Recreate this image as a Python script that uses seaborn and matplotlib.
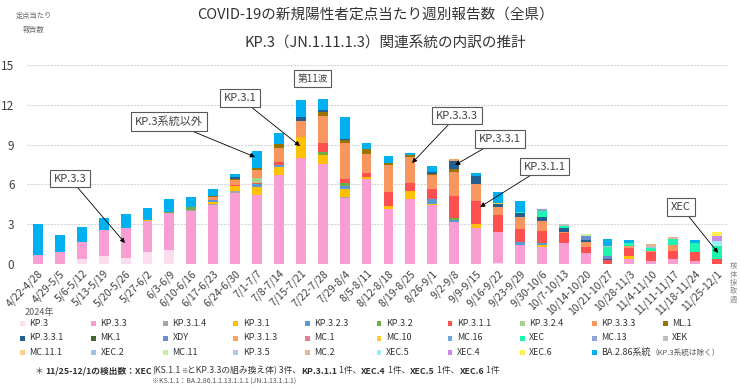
import matplotlib
matplotlib.use("Agg")
import matplotlib.pyplot as plt
import seaborn as sns
import numpy as np
from matplotlib.patches import Rectangle

weeks = ["4/22-4/28", "4/29-5/5", "5/6-5/12", "5/13-5/19", "5/20-5/26", "5/27-6/2",
         "6/3-6/9", "6/10-6/16", "6/17-6/23", "6/24-6/30", "7/1-7/7", "7/8-7/14",
         "7/15-7/21", "7/22-7/28", "7/29-8/4", "8/5-8/11", "8/12-8/18", "8/19-8/25",
         "8/26-9/1", "9/2-9/8", "9/9-9/15", "9/16-9/22", "9/23-9/29", "9/30-10/6",
         "10/7-10/13", "10/14-10/20", "10/21-10/27", "10/28-11/3", "11/4-11/10",
         "11/11-11/17", "11/18-11/24", "11/25-12/1"]

KP_3 = [0, 0, 0.4, 0.6, 0.45, 0.9, 1.03, 0, 0, 0, 0, 0, 0, 0, 0, 0, 0, 0, 0, 0, 0, 0.1, 0, 0, 0, 0, 0, 0, 0, 0, 0, 0]
KP_3_3 = [0.65, 0.9, 1.27, 2.0, 2.28, 2.32, 2.82, 3.97, 4.47, 5.35, 5.18, 6.72, 8.0, 7.55, 5.0, 6.43, 4.17, 4.88, 4.43, 3.13, 2.75, 2.33, 1.43, 1.25, 1.55, 0.85, 0, 0.35, 0.25, 0.38, 0.23, 0]
KP_3_1_4 = [0, 0, 0, 0, 0, 0, 0, 0.1, 0.08, 0.15, 0, 0, 0, 0, 0.05, 0, 0, 0, 0, 0.07, 0, 0, 0, 0, 0, 0, 0, 0, 0, 0, 0, 0]
KP_3_1 = [0, 0, 0, 0, 0, 0.13, 0, 0, 0.15, 0.35, 0.62, 0.58, 1.55, 0.63, 0.63, 0.12, 0.18, 0.62, 0.12, 0, 0.3, 0, 0, 0.18, 0, 0, 0, 0.25, 0, 0, 0, 0]
KP_3_2_3 = [0, 0, 0, 0, 0, 0, 0, 0, 0.1, 0, 0.2, 0.2, 0, 0, 0.17, 0, 0, 0, 0.33, 0.1, 0, 0, 0.25, 0.17, 0, 0, 0, 0, 0, 0, 0, 0]
KP_3_2 = [0, 0, 0, 0, 0, 0, 0.1, 0.2, 0, 0, 0, 0, 0, 0.25, 0.25, 0, 0, 0, 0, 0.2, 0, 0, 0, 0, 0, 0, 0, 0, 0, 0, 0, 0]
KP_3_1_1 = [0, 0, 0, 0, 0, 0, 0, 0, 0, 0.1, 0.1, 0.18, 0, 0.7, 0.28, 0.33, 1.08, 0.63, 0.75, 1.63, 1.7, 1.3, 0.95, 0.88, 0.75, 0.45, 0.3, 0.63, 0.63, 0.62, 0.65, 0.35]
KP_3_2_4 = [0, 0, 0, 0, 0, 0, 0, 0, 0, 0, 0.37, 0, 0, 0, 0, 0, 0, 0, 0, 0, 0, 0, 0, 0, 0, 0, 0, 0, 0, 0, 0, 0]
KP_3_3_3 = [0, 0, 0, 0, 0, 0, 0, 0, 0.25, 0.35, 0.63, 1.07, 1.25, 2.05, 2.72, 1.42, 2.07, 1.92, 1.05, 1.8, 1.3, 0.57, 0.92, 0.75, 0.13, 0.38, 0, 0.12, 0.12, 0.43, 0, 0]
ML_1 = [0, 0, 0, 0, 0, 0, 0, 0, 0.1, 0.1, 0.15, 0.3, 0, 0.3, 0.25, 0.38, 0.13, 0.18, 0.12, 0.25, 0, 0, 0, 0, 0, 0, 0, 0, 0, 0, 0, 0]
KP_3_3_1 = [0, 0, 0, 0, 0, 0, 0, 0, 0, 0.15, 0, 0, 0.3, 0.12, 0.1, 0, 0, 0, 0.1, 0.55, 0.55, 0.2, 0.3, 0.32, 0.25, 0.12, 0.08, 0, 0, 0, 0, 0]
MK_1 = [0] * 32
XDY = [0, 0, 0, 0, 0, 0, 0, 0, 0, 0, 0, 0, 0, 0, 0, 0, 0, 0, 0, 0, 0.05, 0, 0, 0, 0, 0.3, 0.22, 0, 0, 0, 0, 0]
KP_3_1_3 = [0, 0, 0, 0, 0, 0, 0, 0, 0, 0, 0, 0, 0, 0, 0, 0, 0, 0, 0, 0.17, 0, 0, 0, 0, 0, 0, 0, 0, 0, 0, 0, 0]
MC_1 = [0] * 32
MC_10 = [0, 0, 0, 0, 0, 0, 0, 0, 0, 0, 0, 0, 0, 0, 0, 0, 0, 0, 0, 0, 0, 0.1, 0, 0, 0, 0, 0, 0, 0, 0, 0, 0]
MC_16 = [0] * 32
XEC = [0, 0, 0, 0, 0, 0, 0, 0, 0, 0, 0, 0, 0, 0, 0, 0, 0, 0, 0, 0, 0, 0, 0.05, 0.45, 0.17, 0, 0.7, 0.25, 0.18, 0.42, 0.72, 1.04]
MC_13 = [0, 0, 0, 0, 0, 0, 0, 0, 0, 0, 0, 0, 0, 0, 0, 0, 0, 0, 0, 0, 0, 0, 0, 0.13, 0, 0, 0, 0, 0, 0, 0, 0]
XEK = [0, 0, 0, 0, 0, 0, 0, 0, 0, 0, 0, 0, 0, 0, 0, 0, 0, 0, 0, 0, 0, 0, 0, 0, 0.2, 0, 0.05, 0, 0, 0, 0, 0]
MC_11_1 = [0] * 32
XEC_2 = [0, 0, 0, 0, 0, 0, 0, 0, 0, 0, 0, 0, 0, 0, 0, 0, 0, 0, 0, 0, 0, 0, 0, 0, 0, 0, 0, 0, 0.12, 0, 0, 0]
MC_11 = [0, 0, 0, 0, 0, 0, 0, 0, 0, 0, 0, 0, 0, 0, 0, 0, 0, 0, 0, 0, 0, 0, 0, 0, 0, 0.15, 0, 0, 0, 0, 0, 0]
KP_3_5 = [0] * 32
MC_2 = [0, 0, 0, 0, 0, 0, 0, 0, 0, 0, 0, 0, 0, 0, 0, 0, 0, 0, 0, 0, 0, 0, 0, 0, 0, 0, 0, 0, 0.2, 0.2, 0, 0]
XEC_5 = [0] * 31 + [0.35]
XEC_4 = [0] * 31 + [0.35]
XEC_6 = [0] * 31 + [0.35]
BA_2_86 = [2.4, 1.28, 1.13, 0.85, 1.02, 0.9, 0.93, 0.78, 0.5, 0.2, 1.3, 0.8, 1.25, 0.83, 1.6, 0.42, 0.5, 0.15, 0.45, 0, 0.2, 0.83, 0.83, 0, 0, 0, 0.53, 0.2, 0, 0, 0.2, 0]

variant_names = ["KP.3", "KP.3.3", "KP.3.1.4", "KP.3.1", "KP.3.2.3", "KP.3.2", "KP.3.1.1",
                 "KP.3.2.4", "KP.3.3.3", "ML.1", "KP.3.3.1", "MK.1", "XDY", "KP.3.1.3",
                 "MC.1", "MC.10", "MC.16", "XEC", "MC.13", "XEK", "MC.11.1", "XEC.2",
                 "MC.11", "KP.3.5", "MC.2", "XEC.5", "XEC.4", "XEC.6", "BA.2.86"]
variant_values = [KP_3, KP_3_3, KP_3_1_4, KP_3_1, KP_3_2_3, KP_3_2, KP_3_1_1, KP_3_2_4,
                  KP_3_3_3, ML_1, KP_3_3_1, MK_1, XDY, KP_3_1_3, MC_1, MC_10, MC_16, XEC,
                  MC_13, XEK, MC_11_1, XEC_2, MC_11, KP_3_5, MC_2, XEC_5, XEC_4, XEC_6, BA_2_86]
variant_colors = ["#FBDDEE", "#F99ED3", "#A6A6A6", "#FFC000", "#5B9BD5", "#70AD47", "#FF5050",
                  "#A9D18E", "#F9955F", "#997300", "#255E91", "#43682B", "#698ED0", "#F4A460",
                  "#E57F8F", "#FFCC33", "#6FA8DC", "#1DF5B0", "#8FA4D4", "#BFBFBF", "#FFD08A",
                  "#9DC3E6", "#C5F0A4", "#B4C7E7", "#E0B694", "#99F0F0", "#CC88EE", "#FFF050",
                  "#00B0F0"]

sns.set_theme(style="white")
plt.rcParams['font.family'] = ['Noto Sans CJK JP', 'DejaVu Sans']

W, H = 741, 389
fig = plt.figure(figsize=(W / 100, H / 100), dpi=100)
ax = fig.add_axes([27 / W, 1 - 264 / H, 701 / W, 199 / H])

bottom = np.zeros(len(weeks))
for name, color, vals in zip(variant_names, variant_colors, variant_values):
    v = np.array(vals, dtype=float)
    sns.barplot(x=weeks, y=v, order=weeks, color=color, width=0.45, saturation=1,
                bottom=bottom.copy(), errorbar=None, linewidth=0, ax=ax)
    bottom += v

ax.set_xlim(-0.5, len(weeks) - 0.5)
ax.set_ylim(0, 15)
ax.set_yticks([0, 3, 6, 9, 12, 15])
ax.set_yticklabels(["0", "3", "6", "9", "12", "15"], fontsize=8.5, color="#404040")
ax.yaxis.grid(True, color="#D6D6D6", linewidth=0.8, linestyle=(0, (2, 1)))
ax.set_axisbelow(True)
for s in ax.spines.values():
    s.set_visible(False)
ax.set_xlabel("")
ax.set_ylabel("")
ax.set_xticks(range(len(weeks)))
ax.set_xticklabels(weeks, rotation=45, ha="right", rotation_mode="anchor",
                   fontsize=7.5, color="#404040")
ax.tick_params(axis="both", length=0)
ax.tick_params(axis="x", pad=3)
ax.tick_params(axis="y", pad=9)

def px(x, y):
    return x / W, 1 - y / H

def dx(p):
    return (p - 38) / 21.9

def dy(p):
    return (264 - p) / 13.27

box = dict(boxstyle="square,pad=0.35", fc="white", ec="#595959", lw=0.8)
arrow = dict(arrowstyle="-|>", color="black", lw=0.6, mutation_scale=7, shrinkA=0, shrinkB=0)
annots = [("KP.3.3", (70, 178.5), (125, 243)),
          ("KP.3系統以外", (169, 121.5), (255, 157)),
          ("KP.3.1", (240, 98), (300, 146)),
          ("KP.3.3.3", (457, 115.5), (412, 163)),
          ("KP.3.3.1", (500, 139), (455, 165)),
          ("KP.3.1.1", (544.5, 166.5), (480, 207)),
          ("XEC", (681, 207), (718, 253))]
for txt, (bx, by), (tx, ty) in annots:
    ax.annotate(txt, xy=(dx(tx), dy(ty)), xytext=(dx(bx), dy(by)), ha="center", va="center",
                fontsize=8, color="#404040", bbox=box, arrowprops=arrow, annotation_clip=False)
ax.text(dx(312.5), dy(78.5), "第11波", ha="center", va="center", fontsize=7,
        color="#404040", bbox=box)

# titles
fig.text(*px(376, 15), "COVID-19の新規陽性者定点当たり週別報告数（全県）", ha="center",
         va="center", fontsize=10.5, color="#333333")
fig.text(*px(385, 44), "KP.3（JN.1.11.1.3）関連系統の内訳の推計", ha="center",
         va="center", fontsize=10.5, color="#333333")
fig.text(*px(34, 16), "定点当たり", ha="center", va="center", fontsize=5.2, color="#666666")
fig.text(*px(34, 30), "報告数", ha="center", va="center", fontsize=5.2, color="#666666")
fig.text(*px(733, 283), "検\n体\n採\n取\n週", ha="center", va="center", fontsize=5.2,
         color="#888888", linespacing=1.05)

# legend
fig.text(*px(25, 312), "2024年", ha="left", va="center", fontsize=6.5, color="#595959")
col_x = [22, 93.5, 165.5, 236, 307, 379, 450, 522, 594, 665]
row_y = [323, 338, 352.5]
for i, (name, color) in enumerate(zip(variant_names, variant_colors)):
    r, c = divmod(i, 10)
    x0, y0 = col_x[c], row_y[r]
    fig.patches.append(Rectangle(px(x0 - 2.5, y0 + 2.5), 5 / W, 5 / H, transform=fig.transFigure,
                                 facecolor=color, edgecolor="none"))
    if name == "BA.2.86":
        t = fig.text(*px(x0 + 7, y0), "BA.2.86系統", ha="left", va="center", fontsize=6.5,
                     color="#333333")
        bb = t.get_window_extent(fig.canvas.get_renderer())
        fig.text(bb.x1 / W, 1 - y0 / H, "（KP.3系統は除く）", ha="left", va="center",
                 fontsize=5.5, color="#595959")
    else:
        fig.text(*px(x0 + 7, y0), name, ha="left", va="center", fontsize=6.5, color="#333333")

# footnote
def chain(x, y, pieces):
    renderer = fig.canvas.get_renderer()
    for txt, kw in pieces:
        t = fig.text(x / W, 1 - y / H, txt, ha="left", va="center", color="#333333", **kw)
        x += t.get_window_extent(renderer).width

reg = dict(fontsize=6.3)
bold = dict(fontsize=6.3, fontweight="bold")
chain(35, 371, [("＊ ", reg), ("11/25-12/1の検出数：XEC", bold), ("(KS.1.1", reg),
                ("※", dict(fontsize=4.5)), ("とKP.3.3の組み換え体) 3件、", reg),
                ("KP.3.1.1", bold), (" 1件、", reg), ("XEC.4", bold), (" 1件、", reg),
                ("XEC.5", bold), (" 1件、", reg), ("XEC.6", bold), (" 1件", reg)])
fig.text(*px(152, 382), "※KS.1.1：BA.2.86.1.1.13.1.1.1 (JN.1.13.1.1.1)", ha="left",
         va="center", fontsize=5, color="#555555")

fig.savefig("out.png", dpi=100)
